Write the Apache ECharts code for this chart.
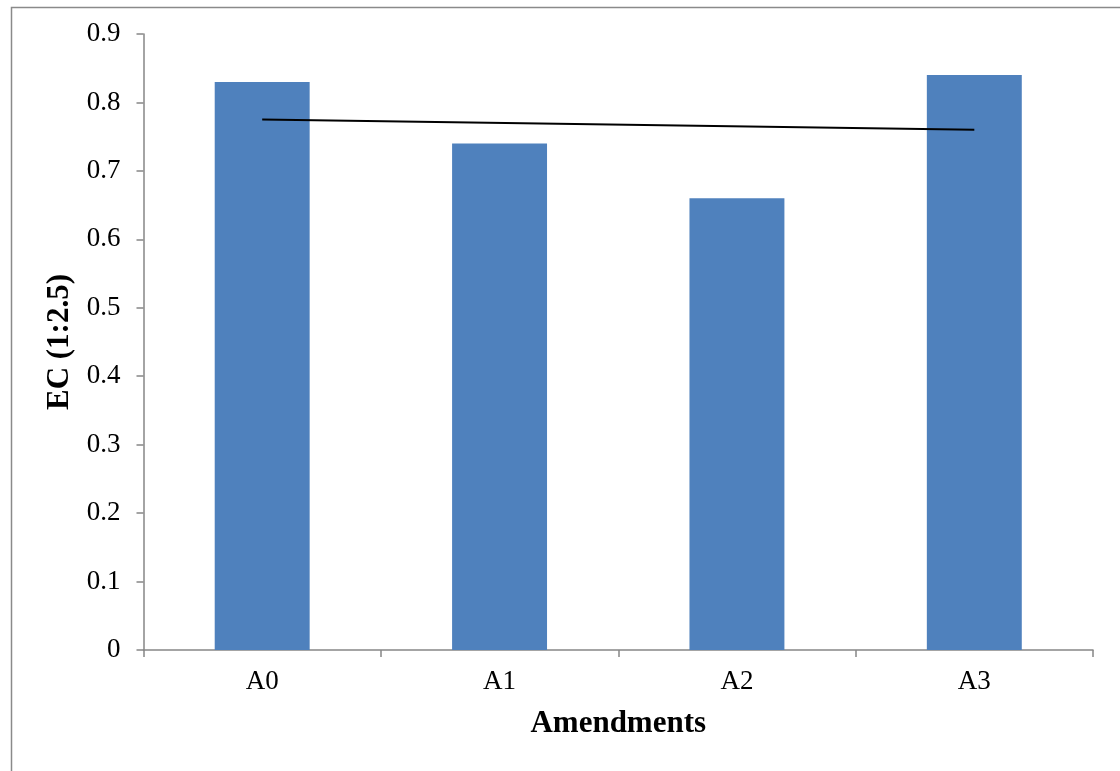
<!DOCTYPE html>
<html>
<head>
<meta charset="utf-8">
<script src="https://cdn.jsdelivr.net/npm/echarts@6/dist/echarts.min.js"></script>
<style>
  html, body { margin: 0; padding: 0; background: #fff; }
  #chart { width: 1120px; height: 771px; }
</style>
</head>
<body>
<div id="chart"></div>
<script>
// EC of the 1:2.5 extract for each amendment
const categories = ['A0', 'A1', 'A2', 'A3'];
const ecValues = [0.83, 0.74, 0.66, 0.84];
// linear trend line, end points at A0 and A3
const trendValues = [0.775, '-', '-', 0.76];

const serif = '"Liberation Serif", "DejaVu Serif", serif';
const axisGray = '#868686';

const chart = echarts.init(document.getElementById('chart'), null, { renderer: 'canvas' });

chart.setOption({
  animation: false,
  backgroundColor: '#ffffff',
  graphic: [{
    type: 'rect',
    left: 9, top: 5,
    shape: { width: 1300, height: 900 },
    style: { fill: 'none', stroke: '#8a8a8a', lineWidth: 1.5 },
    silent: true
  }],
  grid: { left: 143.5, right: 27, top: 34, bottom: 121, containLabel: false },
  xAxis: {
    type: 'category',
    data: categories,
    boundaryGap: true,
    name: 'Amendments',
    nameLocation: 'middle',
    nameGap: 58,
    nameTextStyle: { fontFamily: serif, fontSize: 31, fontWeight: 'bold', color: '#000' },
    axisLine: { lineStyle: { color: axisGray, width: 1.5 } },
    axisTick: { show: true, alignWithLabel: false, length: 7, lineStyle: { color: axisGray, width: 1.5 } },
    axisLabel: { fontFamily: serif, fontSize: 27, color: '#000', margin: 18 },
    splitLine: { show: false }
  },
  yAxis: {
    type: 'value',
    min: 0, max: 0.9, interval: 0.1,
    name: 'EC (1:2.5)',
    nameLocation: 'middle',
    nameRotate: 90,
    nameGap: 52,
    nameTextStyle: { fontFamily: serif, fontSize: 31, fontWeight: 'bold', color: '#000' },
    axisLine: { show: true, lineStyle: { color: axisGray, width: 1.5 } },
    axisTick: { show: true, length: 7, lineStyle: { color: axisGray, width: 1.5 } },
    axisLabel: {
      fontFamily: serif, fontSize: 27, color: '#000', margin: 23,
      formatter: v => (Math.round(v * 10) / 10).toString()
    },
    splitLine: { show: false }
  },
  series: [
    {
      type: 'bar',
      data: ecValues,
      barWidth: '40%',
      itemStyle: { color: '#4F81BD' }
    },
    {
      type: 'line',
      data: trendValues,
      connectNulls: true,
      symbol: 'none',
      lineStyle: { color: '#000', width: 2 },
      z: 5
    }
  ]
});
</script>
</body>
</html>
